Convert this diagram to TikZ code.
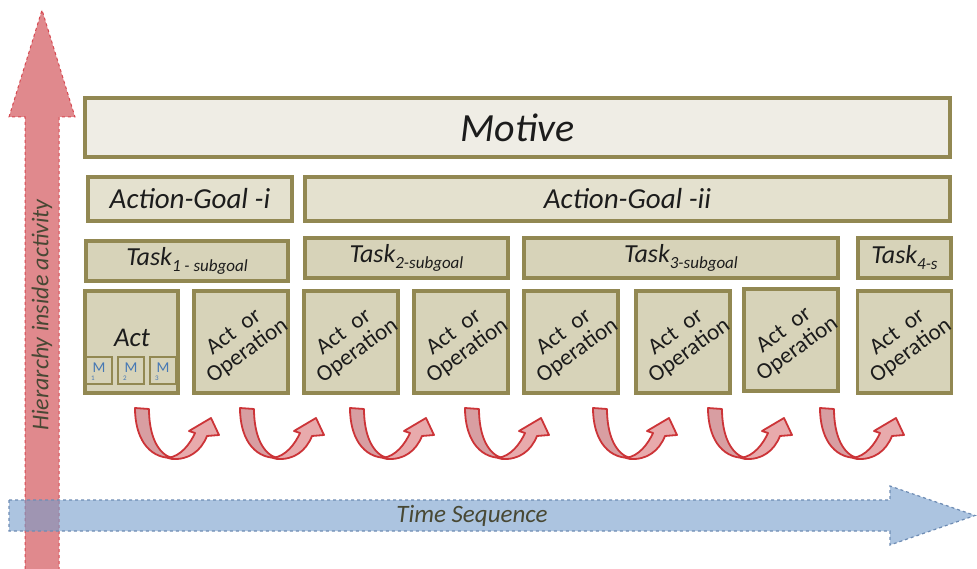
\documentclass[tikz,border=0pt]{standalone}
\usepackage{fontspec}
\setmainfont{Carlito}
\usepackage[]{xcolor}
\usepackage[]{tikz}

\definecolor{boxline}{RGB}{146,136,82}
\definecolor{motivefill}{RGB}{239,237,229}
\definecolor{goalfill}{RGB}{228,225,207}
\definecolor{taskfill}{RGB}{215,211,185}
\definecolor{inktext}{RGB}{28,28,28}
\definecolor{mblue}{RGB}{70,120,180}
\definecolor{upred}{RGB}{224,137,141}
\definecolor{upredline}{RGB}{214,72,80}
\definecolor{timeblue}{RGB}{116,157,203}
\definecolor{timeline}{RGB}{110,140,180}
\definecolor{axistext}{RGB}{72,72,52}
\definecolor{turnline}{RGB}{204,52,56}
\definecolor{turndark}{RGB}{216,158,162}
\definecolor{turnlight}{RGB}{232,170,172}

\newcommand{\tasksub}[1]{\raisebox{-6pt}{\fontsize{17}{18}\selectfont #1}}

\tikzset{
  turnarrow/.pic={
    \filldraw[fill=turndark, draw=turnline, line width=1.8pt, line join=round]
      (0,0) -- (14,1) .. controls (14,28) and (23,46) .. (37,50)
      .. controls (12,50) and (0,28) .. (0,0) -- cycle;
    \filldraw[fill=turnlight, draw=turnline, line width=1.8pt, line join=round]
      (33,50) .. controls (46,48) and (55,36) .. (60,25)
      -- (54,23) -- (76,10) -- (84,27) -- (72,28)
      .. controls (66,43) and (54,52) .. (37,51) -- cycle;
  }
}

\begin{document}
\begin{tikzpicture}[x=1pt, y=-1pt,
    basebox/.style={draw=boxline, line width=3.2pt, inner sep=0pt, text=inktext},
    motivebox/.style={basebox, fill=motivefill, font=\fontsize{40}{44}\selectfont\itshape},
    goalbox/.style={basebox, fill=goalfill, font=\fontsize{29}{32}\selectfont\itshape},
    taskbox/.style={basebox, fill=taskfill, font=\fontsize{26}{28}\selectfont\itshape},
    opbox/.style={basebox, fill=taskfill, minimum width=94pt, minimum height=102pt},
    optext/.style={text=inktext, rotate=36, align=center, font=\fontsize{23}{23}\selectfont},
    mbox/.style={basebox, line width=2.4pt, fill=taskfill, minimum width=26pt, minimum height=27pt},
  ]
  \useasboundingbox (0,0) rectangle (977,569);

  % axes
  \fill[upred] (25,575) -- (25,117) -- (9,117) -- (42,10) -- (75,117) -- (59,117) -- (59,575) -- cycle;
  \draw[upredline, dashed, line width=1pt] (25,575) -- (25,117) -- (9,117) -- (42,10) -- (75,117) -- (59,117) -- (59,575);
  \node[rotate=90, text=axistext, font=\fontsize{24}{26}\selectfont\itshape] (hier) at (42,315) {Hierarchy inside activity};

  \filldraw[fill=timeblue, fill opacity=0.6, draw=timeline, dashed, line width=1.2pt]
    (9,500) -- (890,500) -- (890,486) -- (975,515.5) -- (890,545) -- (890,531) -- (9,531) -- cycle;
  \node[text=axistext, font=\fontsize{25}{27}\selectfont\itshape] (time) at (472,516) {Time Sequence};

  % levels
  \node[motivebox, minimum width=865pt, minimum height=59pt] (motive) at (517.5,127.5) {Motive};

  \node[goalbox, minimum width=204pt, minimum height=44pt] (goal1) at (190,199) {Action-Goal -i};
  \node[goalbox, minimum width=645pt, minimum height=44pt] (goal2) at (627.5,199) {Action-Goal -ii};

  \node[taskbox, minimum width=202pt, minimum height=40pt] (task1) at (187,261) {Task\tasksub{1 - subgoal}};
  \node[taskbox, minimum width=203pt, minimum height=40pt] (task2) at (406.5,258) {Task\tasksub{2-subgoal}};
  \node[taskbox, minimum width=314pt, minimum height=40pt] (task3) at (681,258) {Task\tasksub{3-subgoal}};
  \node[taskbox, minimum width=93pt, minimum height=40pt] (task4) at (904.5,258) {Task\tasksub{4-s}};

  % acts
  \node[opbox, minimum width=93pt] (act) at (131.5,342) {};
  \node[text=inktext, font=\fontsize{27}{28}\selectfont\itshape] (acttext) at (132,338) {Act};
  \foreach \k/\x in {1/99,2/131,3/163}{
    \node[mbox] (m\k) at (\x,370.5) {};
    \node[text=mblue, font=\fontsize{15}{15}\selectfont] at ([yshift=3pt]m\k.center) {M};
    \node[text=mblue, font=\fontsize{7}{7}\selectfont] at ([xshift=-6pt,yshift=-8pt]m\k.center) {\k};
  }

  \foreach \k/\x/\y in {1/241/342,2/351/342,3/461/342,4/571/342,5/683/342,6/791/340,7/904.5/342}{
    \node[opbox] (op\k) at (\x,\y) {};
    \node[optext] at (op\k.center) {Act~~or\\Operation};
  }

  % sequence arrows
  \foreach \x in {135,240,350,465,593,708,820}
    \pic at (\x,408) {turnarrow};
\end{tikzpicture}
\end{document}
